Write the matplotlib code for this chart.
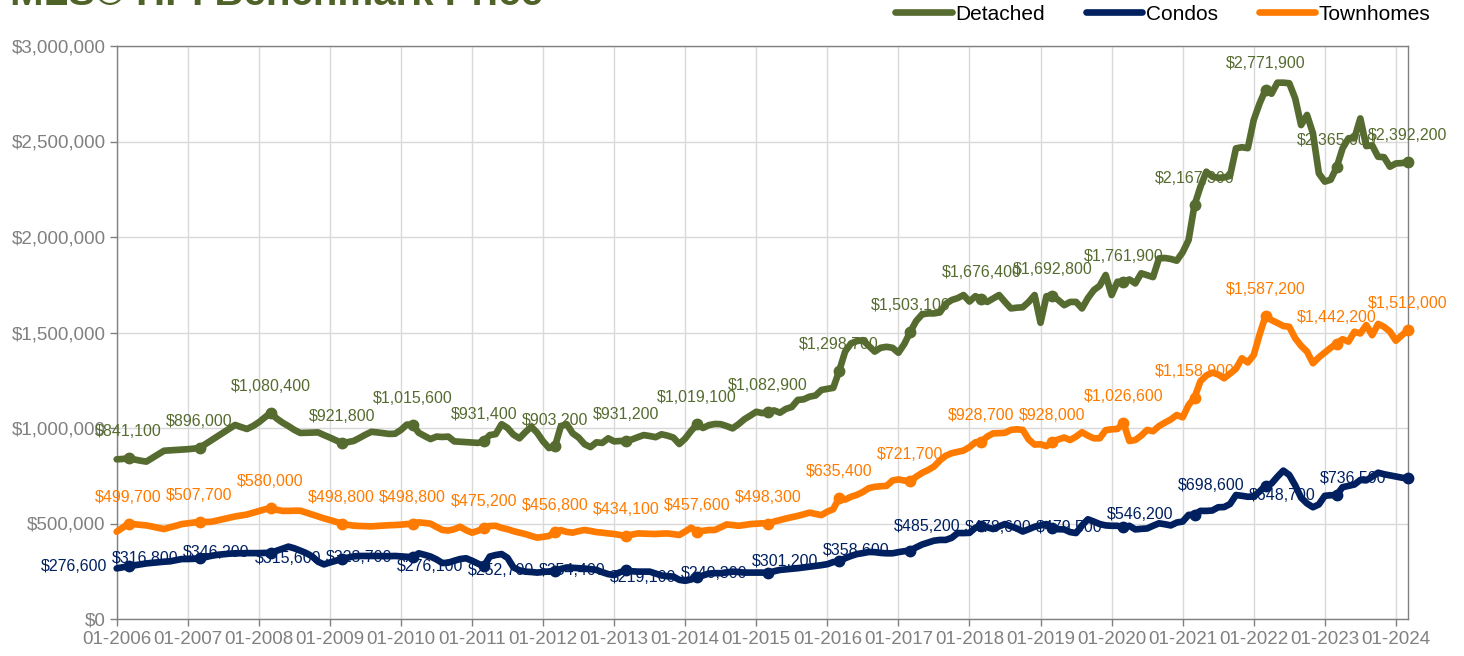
import matplotlib
matplotlib.use("Agg")
import matplotlib.pyplot as plt
import pandas as pd
from matplotlib.lines import Line2D
from matplotlib.ticker import FuncFormatter, MultipleLocator

plt.rcParams['font.family'] = ['Liberation Sans', 'DejaVu Sans']

# Monthly benchmark prices ($ thousands), 01-2006 .. 03-2024
detached = [
    836, 838, 841.1, 835, 829, 824, 843, 862, 881, 883, 885, 887,
    889, 892, 896, 916, 936, 956, 976, 996, 1016, 1005, 995, 1010,
    1030, 1055, 1080.4, 1050, 1028, 1010, 990, 974, 975, 976, 977, 963,
    950, 936, 921.8, 926, 932, 948, 965, 980, 977, 973, 969, 970,
    990, 1018, 1015.6, 975, 958, 942, 955, 953, 955, 930, 928, 926,
    924, 922, 931.4, 963, 968, 1020, 1000, 965, 946, 978, 1007, 975,
    930, 895, 903.2, 1010, 1020, 972, 950, 915, 900, 925, 922, 946,
    930, 932, 931.2, 940, 952, 963, 958, 952, 967, 960, 950, 916,
    945, 985, 1019.1, 1000, 1015, 1021, 1020, 1010, 998, 1020, 1046, 1065,
    1085, 1078, 1082.9, 1092, 1080, 1100, 1110, 1147, 1150, 1164, 1170, 1199,
    1205, 1210, 1298.7, 1400, 1443, 1455, 1460, 1430, 1400, 1420, 1425, 1420,
    1394, 1440, 1503.1, 1560, 1595, 1600, 1600, 1605, 1650, 1670, 1680, 1696,
    1662, 1690, 1676.4, 1660, 1678, 1696, 1660, 1626, 1630, 1632, 1660, 1696,
    1551, 1690, 1692.8, 1670, 1643, 1660, 1660, 1626, 1680, 1722, 1745, 1801,
    1696, 1766, 1761.9, 1778, 1757, 1810, 1800, 1790, 1888, 1890, 1885, 1876,
    1920, 1984, 2167.3, 2263, 2342, 2316, 2310, 2312, 2320, 2464, 2470, 2465,
    2613, 2700, 2771.9, 2750, 2808, 2808, 2805, 2726, 2586, 2639, 2543, 2333,
    2290, 2300, 2365, 2464, 2517, 2517, 2621, 2476, 2480, 2420, 2418, 2368,
    2385, 2387, 2392.2,
]
condos = [
    265, 271, 276.6, 281, 286, 291, 294, 297, 300, 302, 308, 314,
    314, 315, 316.8, 324, 331, 336, 339, 342, 344, 344, 345, 345,
    345, 346, 346.2, 357, 368, 379, 370, 358, 345, 328, 300, 286,
    296, 305, 315.6, 321, 328, 330, 330, 330, 330, 329, 329, 330,
    328, 326, 323.7, 344, 336, 327, 312, 293, 295, 305, 314, 318,
    305, 290, 276.1, 327, 335, 340, 320, 270, 255, 248, 246, 243,
    246, 249, 252.7, 262, 270, 268, 266, 264, 261, 257, 245, 235,
    230, 245, 254.4, 250, 248, 248, 248, 238, 228, 224, 222, 205,
    200, 207, 219.1, 228, 238, 240, 240, 244, 248, 246, 243, 243,
    243, 243, 240.3, 250, 257, 260, 263, 266, 270, 274, 278, 282,
    287, 298, 301.2, 318, 330, 340, 345, 351, 350, 346, 344, 344,
    350, 355, 358.6, 375, 390, 400, 410, 414, 414, 425, 450, 450,
    451, 478, 485.2, 480, 471, 485, 497, 485, 474, 458, 470, 483,
    490, 497, 478.6, 470, 469, 455, 450, 490, 522, 510, 497, 490,
    488, 488, 479.5, 488, 469, 472, 474, 488, 501, 496, 490, 505,
    510, 545, 546.2, 566, 566, 568, 585, 586, 602, 649, 645, 640,
    642, 668, 698.6, 709, 745, 777, 754, 700, 635, 605, 585, 600,
    645, 648, 648.7, 690, 697, 704, 728, 726, 745, 766, 758, 752,
    746, 740, 736.5,
]
townhomes = [
    457, 478, 499.7, 496, 493, 490, 484, 477, 471, 480, 488, 497,
    501, 505, 507.7, 508, 509, 516, 523, 530, 537, 542, 547, 556,
    565, 574, 580, 572, 566, 566, 567, 567, 557, 547, 537, 527,
    518, 509, 498.8, 493, 489, 487, 486, 485, 487, 489, 491, 492,
    494, 497, 498.8, 506, 503, 499, 482, 466, 463, 470, 483, 465,
    452, 462, 475.2, 487, 488, 477, 470, 460, 452, 445, 435, 426,
    430, 435, 456.8, 465, 456, 452, 460, 466, 461, 455, 452, 448,
    445, 440, 434.1, 442, 448, 447, 446, 445, 447, 448, 444, 440,
    458, 478, 457.6, 462, 466, 466, 480, 495, 492, 488, 492, 497,
    499, 501, 498.3, 510, 518, 526, 533, 540, 548, 557, 550, 544,
    562, 575, 635.4, 625, 640, 650, 665, 685, 692, 695, 697, 725,
    731, 725, 721.7, 745, 765, 780, 798, 830, 855, 868, 875, 882,
    900, 925, 928.7, 955, 972, 973, 975, 990, 993, 990, 940, 913,
    915, 905, 928, 940, 950, 937, 955, 978, 960, 946, 946, 989,
    993, 995, 1026.6, 932, 937, 960, 990, 983, 1010, 1028, 1045, 1068,
    1056, 1120, 1158.9, 1245, 1275, 1290, 1280, 1260, 1285, 1310, 1365, 1343,
    1382, 1490, 1587.2, 1565, 1550, 1534, 1530, 1470, 1430, 1400, 1339, 1370,
    1395, 1420, 1442.2, 1465, 1452, 1504, 1495, 1539, 1486, 1545, 1530, 1505,
    1457, 1485, 1512,
]

# March values shown as data labels
detached_labels = [841100, 896000, 1080400, 921800, 1015600, 931400, 903200, 931200,
                   1019100, 1082900, 1298700, 1503100, 1676400, 1692800, 1761900,
                   2167300, 2771900, 2365000, 2392200]
condos_labels = [276600, 316800, 346200, 315600, 323700, 276100, 252700, 254400,
                 219100, 240300, 301200, 358600, 485200, 478600, 479500, 546200,
                 698600, 648700, 736500]
townhomes_labels = [499700, 507700, 580000, 498800, 498800, 475200, 456800, 434100,
                    457600, 498300, 635400, 721700, 928700, 928000, 1026600,
                    1158900, 1587200, 1442200, 1512000]

months = pd.date_range("2006-01-01", periods=len(detached), freq="MS")
month_labels = [d.strftime("%m-%Y") for d in months]
label_idx = [i for i, d in enumerate(months) if d.month == 3]

C_DET = "#566b2f"
C_CON = "#002060"
C_TWN = "#ff7b00"

fig = plt.figure(figsize=(14.64, 6.56), dpi=100)
ax = fig.add_axes([116.7 / 1464, 1 - 619 / 656, (1407.7 - 116.7) / 1464, (619 - 46) / 656])

x = list(range(len(months)))
series = [
    ("Detached", detached, detached_labels, C_DET, "above"),
    ("Condos", condos, condos_labels, C_CON, "left"),
    ("Townhomes", townhomes, townhomes_labels, C_TWN, "above"),
]
for name, vals, labs, col, pos in series:
    yv = [v * 1000 for v in vals]
    ax.plot(x, yv, color=col, lw=4.8, solid_joinstyle="round", solid_capstyle="round",
            marker="o", markersize=7.5, markevery=label_idx, zorder=3, clip_on=False)
    for i, lv in zip(label_idx, labs):
        txt = "${:,.0f}".format(lv)
        if pos == "above":
            ax.annotate(txt, (i, yv[i]), xytext=(0, 19), textcoords="offset points",
                        ha="center", va="center", color=col, fontsize=11.5,
                        zorder=5, annotation_clip=False)
        else:
            ax.annotate(txt, (i, yv[i]), xytext=(-15, 0), textcoords="offset points",
                        ha="right", va="center", color=col, fontsize=11.5,
                        zorder=5, annotation_clip=False)

ax.set_xlim(0, len(months) - 1)
ax.set_ylim(0, 3000000)
jan_idx = [i for i, d in enumerate(months) if d.month == 1]
ax.set_xticks(jan_idx)
ax.set_xticklabels([month_labels[i] for i in jan_idx])
ax.yaxis.set_major_locator(MultipleLocator(500000))
ax.yaxis.set_major_formatter(FuncFormatter(lambda v, p: "${:,.0f}".format(v)))
ax.grid(True, color="#d9d9d9", lw=1.0, zorder=0)
ax.set_axisbelow(True)
for s in ax.spines.values():
    s.set_color("#808080")
    s.set_linewidth(1.0)
ax.tick_params(axis="both", colors="#808080", labelcolor="#808080", length=5,
               width=1.0, labelsize=13.5)
ax.tick_params(axis="x", pad=4)
ax.tick_params(axis="y", pad=3)

fig.text(0.007, 1 - 5 / 656, "MLS\u00ae HPI Benchmark Price", fontsize=29,
         fontweight="bold", color="#4f6228", va="baseline", ha="left")

handles = [Line2D([], [], color=c, lw=4.8, solid_capstyle="round") for c in (C_DET, C_CON, C_TWN)]
fig.legend(handles, ["Detached", "Condos", "Townhomes"], loc="center right",
           bbox_to_anchor=(0.9898, 1 - 14 / 656), ncol=3, frameon=False, fontsize=15,
           handlelength=2.7, handletextpad=0.15, columnspacing=2.0)

fig.savefig("out.png", dpi=100)
